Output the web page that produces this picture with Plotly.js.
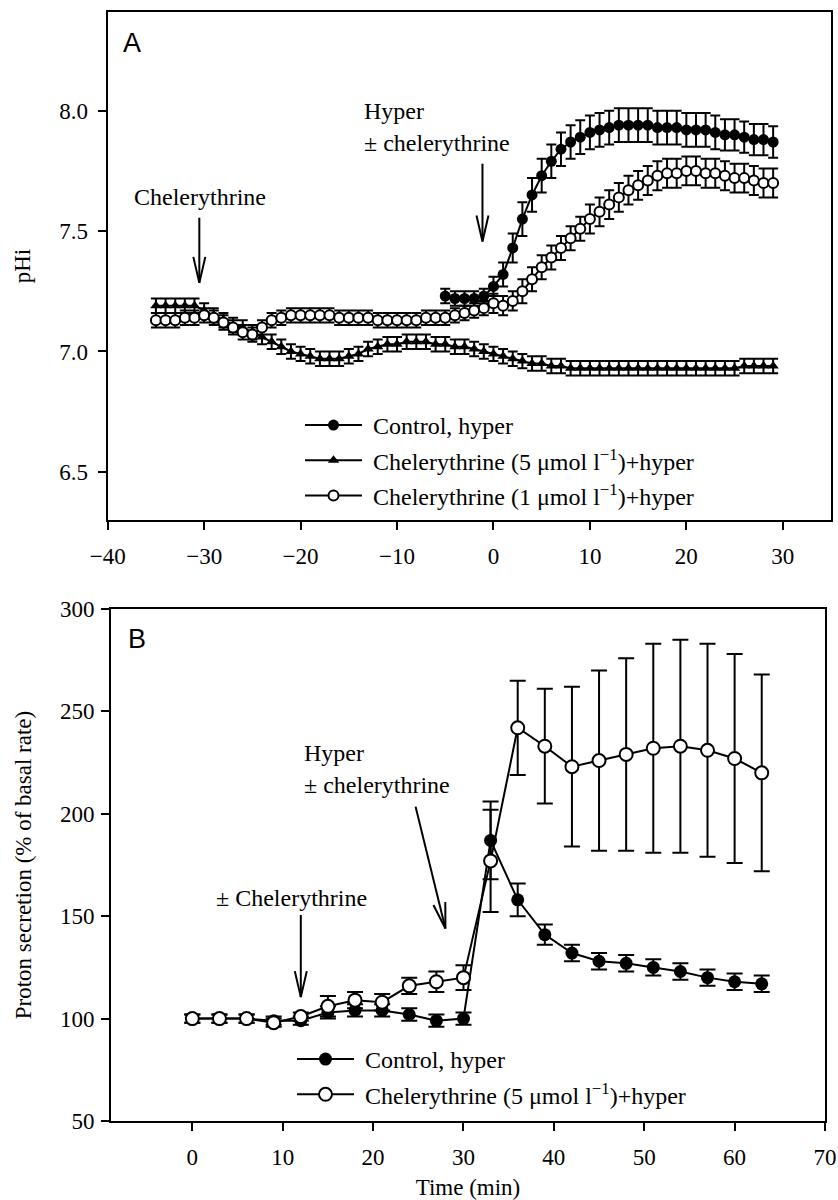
<!DOCTYPE html>
<html>
<head>
<meta charset="utf-8">
<script src="https://cdn.plot.ly/plotly-3.0.1.min.js"></script>
<style>html,body{margin:0;padding:0;background:#fff;}#chart{width:838px;height:1200px;}</style>
</head>
<body>
<div id="chart"></div>
<script>
// ---------- Panel A data (pHi vs time, min) ----------
const tControlA = [-5,-4,-3,-2,-1,0,1,2,3,4,5,6,7,8,9,10,11,12,13,14,15,16,17,18,19,20,21,22,23,24,25,26,27,28,29];
const controlA = [7.23,7.22,7.22,7.22,7.23,7.27,7.32,7.43,7.55,7.65,7.73,7.79,7.84,7.87,7.89,7.91,7.92,7.93,7.94,7.94,7.94,7.94,7.93,7.93,7.93,7.92,7.92,7.92,7.91,7.90,7.90,7.89,7.88,7.88,7.87];
const controlAErr = [0.03,0.03,0.03,0.03,0.03,0.04,0.05,0.06,0.07,0.07,0.07,0.07,0.07,0.07,0.07,0.07,0.07,0.07,0.07,0.07,0.07,0.07,0.07,0.07,0.07,0.07,0.07,0.07,0.07,0.065,0.065,0.065,0.065,0.065,0.065];

const tChelA = [-35,-34,-33,-32,-31,-30,-29,-28,-27,-26,-25,-24,-23,-22,-21,-20,-19,-18,-17,-16,-15,-14,-13,-12,-11,-10,-9,-8,-7,-6,-5,-4,-3,-2,-1,0,1,2,3,4,5,6,7,8,9,10,11,12,13,14,15,16,17,18,19,20,21,22,23,24,25,26,27,28,29];
const chel5A = [7.19,7.19,7.19,7.19,7.19,7.17,7.15,7.13,7.11,7.10,7.08,7.06,7.04,7.02,7.00,6.99,6.98,6.97,6.97,6.97,6.98,6.99,7.01,7.02,7.03,7.03,7.04,7.04,7.04,7.03,7.03,7.02,7.02,7.01,7.00,6.99,6.98,6.97,6.96,6.95,6.95,6.94,6.94,6.93,6.93,6.93,6.93,6.93,6.93,6.93,6.93,6.93,6.93,6.93,6.93,6.93,6.93,6.93,6.93,6.93,6.93,6.94,6.94,6.94,6.94];
const chel5AErr = [0.03,0.03,0.03,0.03,0.03,0.03,0.03,0.03,0.03,0.03,0.03,0.03,0.03,0.03,0.03,0.03,0.03,0.03,0.03,0.03,0.03,0.03,0.03,0.03,0.03,0.03,0.03,0.03,0.03,0.03,0.03,0.03,0.03,0.03,0.03,0.03,0.03,0.03,0.03,0.03,0.03,0.03,0.03,0.03,0.03,0.03,0.03,0.03,0.03,0.03,0.03,0.03,0.03,0.03,0.03,0.03,0.03,0.03,0.03,0.03,0.03,0.03,0.03,0.03,0.03];
const chel1A = [7.13,7.13,7.13,7.14,7.14,7.15,7.14,7.12,7.10,7.08,7.07,7.10,7.13,7.14,7.15,7.15,7.15,7.15,7.15,7.14,7.14,7.14,7.14,7.13,7.13,7.13,7.13,7.13,7.14,7.14,7.14,7.15,7.16,7.17,7.18,7.20,7.19,7.21,7.25,7.30,7.35,7.39,7.43,7.47,7.51,7.55,7.58,7.61,7.64,7.67,7.69,7.71,7.73,7.74,7.74,7.75,7.75,7.74,7.74,7.73,7.72,7.72,7.71,7.70,7.70];
const chel1AErr = [0.03,0.03,0.03,0.03,0.03,0.03,0.03,0.03,0.03,0.03,0.03,0.03,0.03,0.03,0.03,0.03,0.03,0.03,0.03,0.03,0.03,0.03,0.03,0.03,0.03,0.03,0.03,0.03,0.03,0.03,0.03,0.03,0.03,0.03,0.03,0.04,0.04,0.04,0.05,0.05,0.05,0.05,0.05,0.05,0.05,0.06,0.06,0.06,0.06,0.06,0.06,0.06,0.06,0.06,0.06,0.06,0.06,0.06,0.06,0.06,0.06,0.06,0.06,0.06,0.06];

// ---------- Panel B data (proton secretion, % of basal) ----------
const tB = [0,3,6,9,12,15,18,21,24,27,30,33,36,39,42,45,48,51,54,57,60,63];
const controlB = [100,100,100,99,99,103,104,104,102,99,100,187,158,141,132,128,127,125,123,120,118,117];
const controlBErr = [2,2,2,2,2,3,3,3,3,3,3,19,8,5,4,4,4,4,4,4,4,4];
const chelB = [100,100,100,98,101,106,109,108,116,118,120,177,242,233,223,226,229,232,233,231,227,220];
const chelBErr = [2,2,2,2,2,5,4,4,4,5,6,25,23,28,39,44,47,51,52,52,51,48];

// ---------- labels ----------
const nameControl = '\u00a0Control, hyper';
const nameChel5 = '\u00a0Chelerythrine (5 \u03bcmol l<sup>\u22121</sup>)+hyper';
const nameChel1 = '\u00a0Chelerythrine (1 \u03bcmol l<sup>\u22121</sup>)+hyper';

const W = 838, H = 1200;
const px = v => v / W;            // pixel -> paper x
const py = v => 1 - v / H;        // pixel -> paper y
const SERIF = 'Liberation Serif, Times New Roman, serif';
const SANS = 'Liberation Sans, Arial, sans-serif';
const TXT = 24, TICK = 23, TITLE = 23;

function errStyle(arr, w) {
  return {type: 'data', array: arr, visible: true, color: '#000', thickness: 2, width: w};
}

const traces = [
  {x: tChelA, y: chel5A, xaxis: 'x', yaxis: 'y', mode: 'lines+markers', name: nameChel5,
   legend: 'legend', legendgroup: 'a2', legendrank: 2,
   line: {color: '#000', width: 2}, marker: {symbol: 'triangle-up', size: 10, color: '#000'},
   error_y: errStyle(chel5AErr, 5)},
  {x: tControlA, y: controlA, xaxis: 'x', yaxis: 'y', mode: 'lines+markers', name: nameControl,
   legend: 'legend', legendgroup: 'a1', legendrank: 1,
   line: {color: '#000', width: 2}, marker: {symbol: 'circle', size: 11, color: '#000'},
   error_y: errStyle(controlAErr, 5)},
  {x: tChelA, y: chel1A, xaxis: 'x', yaxis: 'y', mode: 'lines+markers', name: nameChel1,
   legend: 'legend', legendgroup: 'a3', legendrank: 3,
   line: {color: '#000', width: 2}, marker: {symbol: 'circle', size: 10, color: '#fff', line: {color: '#000', width: 2}},
   error_y: errStyle(chel1AErr, 5)},
  {x: tB, y: controlB, xaxis: 'x2', yaxis: 'y2', mode: 'lines+markers', name: nameControl,
   legend: 'legend2', legendgroup: 'b1', legendrank: 1,
   line: {color: '#000', width: 2}, marker: {symbol: 'circle', size: 13, color: '#000'},
   error_y: errStyle(controlBErr, 8)},
  {x: tB, y: chelB, xaxis: 'x2', yaxis: 'y2', mode: 'lines+markers', name: nameChel5,
   legend: 'legend2', legendgroup: 'b2', legendrank: 2,
   line: {color: '#000', width: 2}, marker: {symbol: 'circle', size: 13, color: '#fff', line: {color: '#000', width: 2}},
   error_y: errStyle(chelBErr, 8)}
];

const axisCommon = {
  showgrid: false, zeroline: false, showline: true, linecolor: '#000', linewidth: 2,
  mirror: true, ticks: 'outside', ticklen: 8, tickwidth: 2, tickcolor: '#000',
  tickfont: {family: SERIF, size: TICK, color: '#000'}, automargin: false
};

function arrowShapes(xa, ya, x0, y0, x1, y1, head) {
  return [
    {type: 'line', xref: xa, yref: ya, x0: x0, y0: y0, x1: x1, y1: y1, line: {color: '#000', width: 2}},
    {type: 'path', xref: xa, yref: ya, xsizemode: 'pixel', ysizemode: 'pixel', xanchor: x1, yanchor: y1,
     path: head, line: {color: '#000', width: 2}}
  ];
}
const headDown = 'M-6,26 L0,0 L6,26';
const headSlant = 'M-0.1,26.5 L0,0 L-12,23.5';

const legendCommon = {
  font: {family: SERIF, size: TXT, color: '#000'}, bgcolor: 'rgba(0,0,0,0)',
  xanchor: 'left', yanchor: 'top', traceorder: 'grouped', tracegroupgap: 1,
  itemwidth: 57, itemclick: false
};

function note(xa, ya, x, y, text, anchor) {
  return {xref: xa, yref: ya, x: x, y: y, text: text, showarrow: false,
    xanchor: anchor, yanchor: 'middle', font: {family: SERIF, size: TXT, color: '#000'}};
}

const layout = {
  width: W, height: H,
  margin: {l: 0, r: 0, t: 0, b: 0, pad: 0},
  paper_bgcolor: '#fff', plot_bgcolor: '#fff',
  font: {family: SERIF, color: '#000'},
  showlegend: true,
  xaxis: Object.assign({}, axisCommon, {domain: [px(107.7), px(831)], anchor: 'y', range: [-40, 35],
    tickmode: 'array', tickvals: [-40,-30,-20,-10,0,10,20,30], ticklabelstandoff: 6}),
  yaxis: Object.assign({}, axisCommon, {domain: [py(520), py(12)], anchor: 'x', range: [6.3, 8.41],
    tickmode: 'array', tickvals: [6.5,7.0,7.5,8.0], tickformat: '.1f', ticklabelstandoff: 5,
    title: {text: 'pHi', font: {family: SERIF, size: TITLE, color: '#000'}, standoff: 22}}),
  xaxis2: Object.assign({}, axisCommon, {domain: [px(111), px(825)], anchor: 'y2', range: [-9, 70],
    tickmode: 'array', tickvals: [0,10,20,30,40,50,60,70], ticklabelstandoff: 6,
    title: {text: 'Time (min)', font: {family: SERIF, size: TITLE, color: '#000'}, standoff: 16}}),
  yaxis2: Object.assign({}, axisCommon, {domain: [py(1121), py(609)], anchor: 'x2', range: [50, 300],
    tickmode: 'array', tickvals: [50,100,150,200,250,300], ticklabelstandoff: 2,
    title: {text: 'Proton secretion (% of basal rate)', font: {family: SERIF, size: TITLE, color: '#000'}, standoff: 22}}),
  legend: Object.assign({}, legendCommon, {x: px(300), y: py(403)}),
  legend2: Object.assign({}, legendCommon, {x: px(292), y: py(1037)}),
  annotations: [
    {xref: 'paper', yref: 'paper', x: px(121), y: py(43), text: 'A', showarrow: false,
     xanchor: 'left', yanchor: 'middle', font: {family: SANS, size: 27, color: '#000'}},
    {xref: 'paper', yref: 'paper', x: px(126), y: py(639), text: 'B', showarrow: false,
     xanchor: 'left', yanchor: 'middle', font: {family: SANS, size: 27, color: '#000'}},
    note('x', 'y', -30.4, 7.64, 'Chelerythrine', 'center'),
    note('x', 'y', -13.6, 8.0, 'Hyper', 'left'),
    note('x', 'y', -13.6, 7.866, '\u00b1 chelerythrine', 'left'),
    note('x2', 'y2', 11.0, 158.9, '\u00b1 Chelerythrine', 'center'),
    note('x2', 'y2', 12.1, 229.7, 'Hyper', 'left'),
    note('x2', 'y2', 12.1, 214.0, '\u00b1 chelerythrine', 'left')
  ],
  shapes: [].concat(
    arrowShapes('x', 'y', -30.5, 7.555, -30.5, 7.285, headDown),
    arrowShapes('x', 'y', -1.14, 7.78, -1.14, 7.457, headDown),
    arrowShapes('x2', 'y2', 12.0, 150.6, 12.0, 110.5, headDown),
    arrowShapes('x2', 'y2', 24.7, 203.5, 28.0, 144.0, headSlant)
  )
};

Plotly.newPlot('chart', traces, layout, {staticPlot: true, displayModeBar: false});
</script>
</body>
</html>
